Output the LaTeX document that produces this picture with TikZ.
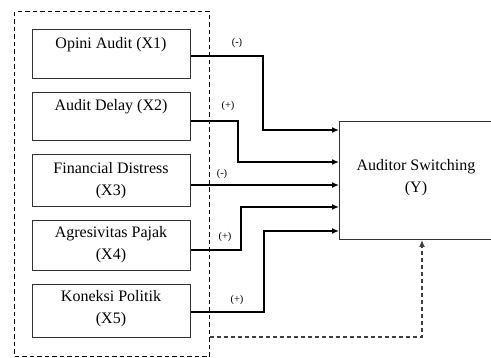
\documentclass[tikz,border=0pt]{standalone}
\usepackage{fontspec}
\setmainfont{Liberation Serif}
\usetikzlibrary{arrows.meta}
\begin{document}
\begin{tikzpicture}[x=1pt,y=-1pt,
  varbox/.style={draw=black!80, line width=1pt, minimum width=158pt, anchor=north west, align=center, inner sep=0pt},
  lbl/.style={font=\fontsize{16}{22}\selectfont, align=center, inner sep=0pt},
  conn/.style={draw, line width=1.4pt, -{Latex[length=7pt,width=6pt]}},
  sign/.style={font=\fontsize{10.5}{12}\selectfont, inner sep=1pt},
  dbox/.style={draw, line width=1.3pt, dash pattern=on 4.5pt off 3pt}]
\useasboundingbox (0,0) rectangle (491,358);
\node[dbox, minimum width=195pt, minimum height=345pt, anchor=north west] (grp) at (14,11) {};
\node[varbox, minimum height=49pt] (x1) at (32,29) {};
\node[lbl] (t1) at (111,45) {Opini Audit (X1)};
\node[varbox, minimum height=48pt] (x2) at (32,92) {};
\node[lbl] (t2) at (111,107) {Audit Delay (X2)};
\node[varbox, minimum height=52pt] (x3) at (32,154) {};
\node[lbl] (t3) at (111,181) {Financial Distress\\(X3)};
\node[varbox, minimum height=50pt] (x4) at (32,220) {};
\node[lbl] (t4) at (111,245) {Agresivitas Pajak\\(X4)};
\node[varbox, minimum height=53pt] (x5) at (32,284) {};
\node[lbl] (t5) at (111,309) {Koneksi Politik\\(X5)};
\node[draw=black!80, line width=1pt, minimum width=152pt, minimum height=118pt, anchor=north west, inner sep=0pt] (y) at (339,121) {};
\node[lbl] (ty) at (416,178) {Auditor Switching\\(Y)};
\coordinate (y1) at (339,130);
\coordinate (y2) at (339,162);
\coordinate (y3) at (339,185);
\coordinate (y4) at (339,207);
\coordinate (y5) at (339,231);
\draw[conn] (x1.east |- 0,56) -| (263,130) -- (y1);
\draw[conn] (x2.east |- 0,121) -| (238,162) -- (y2);
\draw[conn] (x3.east |- 0,185) -- (y3);
\draw[conn] (x4.east |- 0,250) -| (241,207) -- (y4);
\draw[conn] (x5.east |- 0,312) -| (264,231) -- (y5);
\draw[line width=1.1pt, draw=black!75, dash pattern=on 4pt off 3pt, -{Latex[length=7pt,width=6pt]}] (grp.east |- 0,337) -| (y.south -| 422,0);
\node[sign] (s1) at (237,43) {(-)};
\node[sign] (s2) at (228,106) {(+)};
\node[sign] (s3) at (222,174) {(-)};
\node[sign] (s4) at (225,237) {(+)};
\node[sign] (s5) at (237,300) {(+)};
\end{tikzpicture}
\end{document}
